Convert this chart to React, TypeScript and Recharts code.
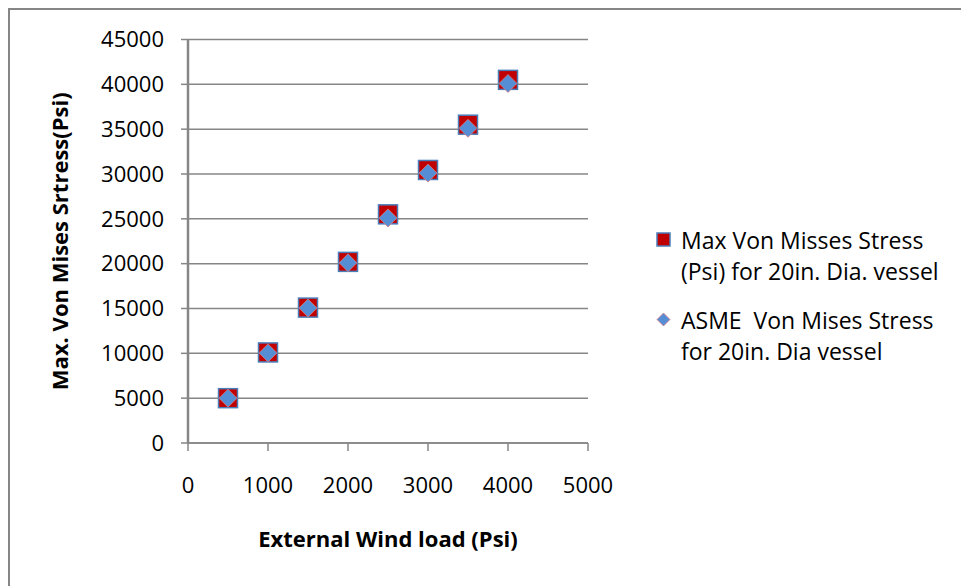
import React from 'react'
import {
  ScatterChart,
  Scatter,
  XAxis,
  YAxis,
  CartesianGrid,
  Legend,
} from 'recharts'

const windLoad = [500, 1000, 1500, 2000, 2500, 3000, 3500, 4000]
const maxStress = [5000, 10100, 15100, 20200, 25500, 30450, 35500, 40500]
const asmeStress = [5000, 10050, 15050, 20100, 25100, 30100, 35100, 40100]
const xTicks = [0, 1000, 2000, 3000, 4000, 5000]
const yTicks = [0, 5000, 10000, 15000, 20000, 25000, 30000, 35000, 40000, 45000]

const maxLabel = ['Max Von Misses Stress', '(Psi) for 20in. Dia. vessel']
const asmeLabel = ['ASME  Von Mises Stress', 'for 20in. Dia vessel']

const maxData = windLoad.map((x, i) => ({ x, y: maxStress[i] }))
const asmeData = windLoad.map((x, i) => ({ x, y: asmeStress[i] }))

const GRID = '#868686'
const FONT = '"Open Sans", sans-serif'

const SquareMark = (props: any) => {
  const { cx, cy } = props
  return (
    <rect
      x={cx - 9.5}
      y={cy - 9.5}
      width={19}
      height={19}
      fill="#c00000"
      stroke="#4a7ebb"
      strokeWidth={1.5}
    />
  )
}

const DiamondMark = (props: any) => {
  const { cx, cy } = props
  const r = 9
  return (
    <polygon
      points={`${cx},${cy - r} ${cx + r},${cy} ${cx},${cy + r} ${cx - r},${cy}`}
      fill="#558ed5"
      stroke="#e07a7a"
      strokeWidth={0.75}
    />
  )
}

const LegendBox = () => (
  <div style={{ fontFamily: FONT, fontSize: 23, color: '#000', lineHeight: '30.5px' }}>
    <div style={{ display: 'flex', alignItems: 'flex-start' }}>
      <svg width={26} height={30}>
        <rect x={2} y={8} width={13} height={13} fill="#c00000" stroke="#4a7ebb" strokeWidth={1.5} />
      </svg>
      <div>
        {maxLabel.map((t) => (
          <div key={t} style={{ whiteSpace: 'pre' }}>{t}</div>
        ))}
      </div>
    </div>
    <div style={{ display: 'flex', alignItems: 'flex-start', marginTop: 19 }}>
      <svg width={26} height={30}>
        <polygon points="8.5,8 15,14.5 8.5,21 2,14.5" fill="#558ed5" stroke="#e07a7a" strokeWidth={0.75} />
      </svg>
      <div>
        {asmeLabel.map((t) => (
          <div key={t} style={{ whiteSpace: 'pre' }}>{t}</div>
        ))}
      </div>
    </div>
  </div>
)

export default function App() {
  return (
    <div
      style={{
        width: 957,
        height: 590,
        border: `2px solid ${GRID}`,
        background: '#fff',
        position: 'relative',
      }}
    >
      <ScatterChart
        width={957}
        height={578}
        margin={{ top: 29.5, right: 379, left: 38, bottom: 35 }}
      >
        <CartesianGrid vertical={false} stroke={GRID} strokeWidth={1.5} />
        <XAxis
          type="number"
          dataKey="x"
          domain={[0, 5000]}
          ticks={xTicks}
          interval={0}
          height={110}
          stroke={GRID}
          axisLine={{ stroke: GRID, strokeWidth: 1.5 }}
          tickLine={{ stroke: GRID, strokeWidth: 1.5 }}
          tickSize={8}
          tickMargin={26}
          tick={{ fill: '#000', fontSize: 22, fontFamily: FONT }}
          label={{
            value: 'External Wind load (Psi)',
            position: 'insideBottom',
            offset: 6,
            fill: '#000',
            fontSize: 22,
            fontWeight: 'bold',
            fontFamily: FONT,
          }}
        />
        <YAxis
          type="number"
          dataKey="y"
          domain={[0, 45000]}
          ticks={yTicks}
          interval={0}
          width={140}
          axisLine={{ stroke: GRID, strokeWidth: 2.5 }}
          tickLine={{ stroke: GRID, strokeWidth: 1.5 }}
          tickSize={7}
          tickMargin={17}
          tick={{ fill: '#000', fontSize: 22, fontFamily: FONT }}
          label={{
            value: 'Max. Von Mises Srtress(Psi)',
            angle: -90,
            position: 'insideLeft',
            offset: 12,
            fill: '#000',
            fontSize: 22,
            fontWeight: 'bold',
            fontFamily: FONT,
            style: { textAnchor: 'middle' },
          }}
        />
        <Legend
          layout="horizontal"
          verticalAlign="middle"
          align="center"
          content={() => <LegendBox />}
          wrapperStyle={{ left: 645, top: 215, width: 320 }}
        />
        <Scatter
          name="Max Von Misses Stress (Psi) for 20in. Dia. vessel"
          data={maxData}
          shape={SquareMark}
          isAnimationActive={false}
        />
        <Scatter
          name="ASME  Von Mises Stress for 20in. Dia vessel"
          data={asmeData}
          shape={DiamondMark}
          isAnimationActive={false}
        />
      </ScatterChart>
    </div>
  )
}
